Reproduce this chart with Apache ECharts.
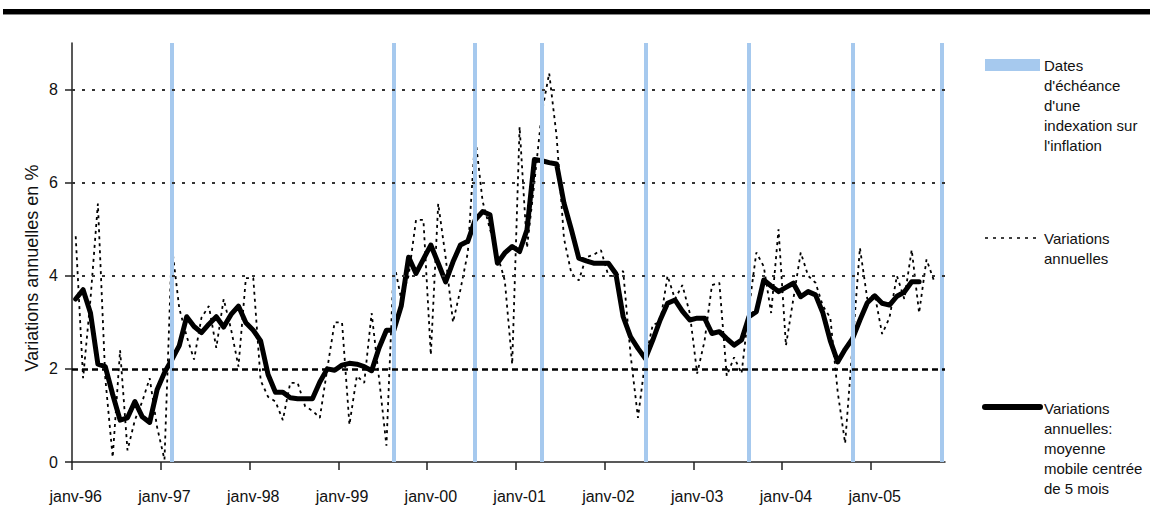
<!DOCTYPE html>
<html><head><meta charset="utf-8">
<script src="https://cdn.jsdelivr.net/npm/echarts@6/dist/echarts.min.js"></script>
<style>html,body{margin:0;padding:0;background:#fff}#c{width:1150px;height:516px}</style>
</head><body><div id="c"></div>
<script>
// Months from janv-96 (index 0) to oct-05 (index 117)
const monthCount = 118;
const tickLabels = ['janv-96','janv-97','janv-98','janv-99','janv-00','janv-01','janv-02','janv-03','janv-04','janv-05'];
const yTicks = [0, 2, 4, 6, 8];
// Variations annuelles (monthly), janv-96 .. sept-05
const annual = [
 4.85,1.8,3.5,5.55,1.8,0.1,2.4,0.25,0.9,1.3,1.8,0.75,
 0.05,4.65,3.3,2.7,2.2,3.1,3.35,2.45,3.5,2.85,2.05,3.95,
 3.95,1.75,1.4,1.3,0.9,1.7,1.7,1.2,1.1,0.95,2.0,3.0,
 3.0,0.8,1.85,1.7,3.2,1.8,0.35,4.3,3.5,4.0,5.2,5.2,
 2.3,5.55,4.4,3.0,3.7,4.5,7.0,5.6,5.0,4.45,3.9,2.1,
 7.2,4.6,6.0,7.5,8.35,7.0,4.8,4.05,3.9,4.4,4.45,4.55,
 4.0,4.0,4.1,2.3,0.95,2.2,2.95,3.0,4.0,3.5,3.8,3.2,
 1.9,2.6,3.8,3.85,1.85,2.25,1.9,3.3,4.5,4.2,3.2,5.0,
 2.5,3.5,4.5,4.0,3.85,3.35,3.1,1.5,0.4,2.5,4.6,3.5,
 3.6,2.75,3.1,4.0,3.5,4.56,3.2,4.35,3.9
];
// Moyenne mobile centrée de 5 mois, janv-96 .. juil-05
const movingAvg = [
 3.5,3.7,3.2,2.1,2.05,1.45,0.9,0.95,1.3,0.97,0.85,1.55,
 1.92,2.2,2.5,3.12,2.91,2.78,2.96,3.12,2.9,3.17,3.35,2.99,
 2.83,2.6,1.88,1.5,1.5,1.38,1.36,1.36,1.36,1.72,2.0,1.97,
 2.08,2.12,2.1,2.05,1.96,2.45,2.83,2.83,3.35,4.4,4.05,4.36,
 4.66,4.27,3.87,4.3,4.66,4.74,5.2,5.38,5.31,4.27,4.49,4.63,
 4.52,4.99,6.5,6.47,6.43,6.4,5.56,4.99,4.38,4.32,4.27,4.27,
 4.27,4.05,3.12,2.69,2.44,2.22,2.62,3.05,3.41,3.48,3.24,3.05,
 3.09,3.09,2.76,2.8,2.65,2.51,2.62,3.12,3.23,3.91,3.78,3.66,
 3.75,3.84,3.55,3.66,3.59,3.2,2.6,2.15,2.42,2.65,3.05,3.42,
 3.57,3.41,3.37,3.56,3.65,3.87,3.87
];
// Dates d'échéance d'une indexation sur l'inflation (month indexes)
const indexationMonths = [13, 43, 54, 63, 77, 91, 105, 117];
const legendTexts = [
  "Dates\nd'échéance\nd'une\nindexation sur\nl'inflation",
  "Variations\nannuelles",
  "Variations\nannuelles:\nmoyenne\nmobile centrée\nde 5 mois"
];

const toPts = arr => arr.map((v, i) => [i + 0.5, v]);
const yearTickValues = tickLabels.map((_, k) => k * 12);
const yearLabelValues = tickLabels.map((_, k) => k * 12 + 0.5);

const chart = echarts.init(document.getElementById('c'), null, {renderer: 'svg'});
const font = "'Liberation Sans', Arial, sans-serif";
chart.setOption({
  backgroundColor: '#ffffff',
  animation: false,
  grid: {left: 72, right: 205, top: 43, bottom: 54, containLabel: false, outerBoundsMode: 'none'},
  xAxis: {
    type: 'value', min: 0, max: monthCount,
    axisLine: {lineStyle: {color: '#222', width: 1.5}},
    axisTick: {show: true, length: 8, customValues: yearTickValues, lineStyle: {color: '#222', width: 1.5}},
    axisLabel: {customValues: yearLabelValues, margin: 26, fontSize: 16, color: '#111', fontFamily: font,
      formatter: v => tickLabels[Math.round((v - 0.5) / 12)] || ''},
    splitLine: {show: false}
  },
  yAxis: {
    type: 'value', min: 0, max: 9,
    axisLine: {show: true, lineStyle: {color: '#222', width: 1.5}},
    axisTick: {show: true, length: 7, customValues: yTicks, lineStyle: {color: '#222', width: 1.5}},
    axisLabel: {customValues: yTicks, margin: 14, fontSize: 16, color: '#111', fontFamily: font},
    splitLine: {show: false}
  },
  series: [
    {
      type: 'line', data: [], z: 1, silent: true,
      markLine: {
        silent: true, symbol: ['none', 'none'], label: {show: false}, animation: false,
        data: indexationMonths.map(m => ({xAxis: m + 0.5, lineStyle: {color: '#a6c9ee', width: 4, type: 'solid'}}))
      }
    },
    {
      type: 'line', data: [], z: 2, silent: true,
      markLine: {
        silent: true, symbol: ['none', 'none'], label: {show: false}, animation: false,
        data: [
          {yAxis: 4, lineStyle: {color: '#333', width: 1.8, type: [3, 7]}},
          {yAxis: 6, lineStyle: {color: '#333', width: 1.8, type: [3, 7]}},
          {yAxis: 8, lineStyle: {color: '#333', width: 1.8, type: [3, 7]}},
          {yAxis: 2, lineStyle: {color: '#000', width: 2.6, type: [6, 4]}}
        ]
      }
    },
    {
      name: 'Variations annuelles', type: 'line', data: toPts(annual), z: 3,
      symbol: 'none', lineStyle: {color: '#000', width: 1.8, type: [3, 4]}
    },
    {
      name: 'Moyenne mobile', type: 'line', data: toPts(movingAvg), z: 4,
      symbol: 'none', lineStyle: {color: '#000', width: 5, join: 'round', cap: 'round'}
    }
  ],
  graphic: [
    {type: 'rect', shape: {x: 3, y: 9, width: 1147, height: 5}, style: {fill: '#000'}},
    {type: 'rect', shape: {x: 3, y: 14, width: 1147, height: 1}, style: {fill: '#888'}},
    {type: 'text', x: 32, y: 268, rotation: Math.PI / 2,
      style: {text: 'Variations annuelles en %', fontSize: 18, fontFamily: font, fill: '#111', align: 'center', verticalAlign: 'middle'}},
    {type: 'rect', shape: {x: 985, y: 59, width: 55, height: 12}, style: {fill: '#a6c9ee'}},
    {type: 'text', x: 1044, y: 55, style: {text: legendTexts[0], fontSize: 15, lineHeight: 20, fontFamily: font, fill: '#111'}},
    {type: 'line', shape: {x1: 985, y1: 238, x2: 1040, y2: 238}, style: {stroke: '#000', lineWidth: 1.6, lineDash: [3, 5]}},
    {type: 'text', x: 1044, y: 228, style: {text: legendTexts[1], fontSize: 15, lineHeight: 20, fontFamily: font, fill: '#111'}},
    {type: 'line', shape: {x1: 985, y1: 407, x2: 1040, y2: 407}, style: {stroke: '#000', lineWidth: 6, lineCap: 'round'}},
    {type: 'text', x: 1044, y: 398, style: {text: legendTexts[2], fontSize: 15, lineHeight: 20, fontFamily: font, fill: '#111'}}
  ]
});
</script>
</body></html>
